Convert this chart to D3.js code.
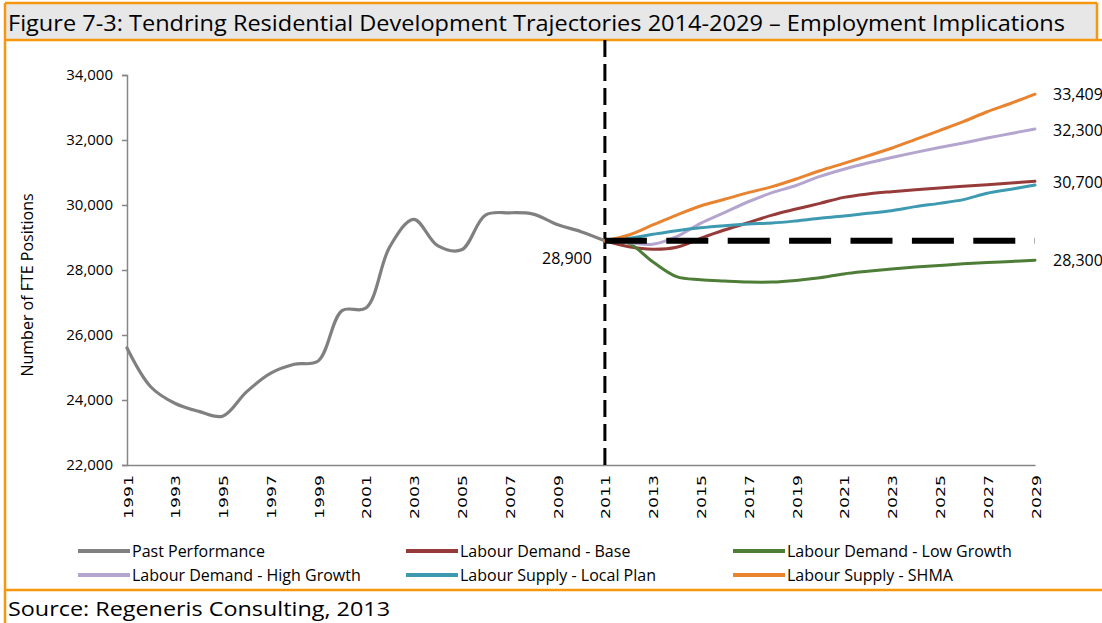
<!DOCTYPE html>
<html><head><meta charset="utf-8">
<script src="https://cdn.jsdelivr.net/npm/d3@7"></script>
<style>body{margin:0;background:#fff}svg{display:block}</style>
</head><body>
<svg id="c" width="1102" height="623"></svg>
<script>
// ---- data ----
const pastYears = [1991,1992,1993,1994,1995,1996,1997,1998,1999,2000,2001,2002,2003,2004,2005,2006,2007,2008,2009,2010,2011];
const pastPerformance = [25600,24400,23900,23650,23500,24250,24820,25100,25200,26750,26830,28720,29560,28750,28620,29690,29760,29720,29400,29180,28900];
const projYears = [2011,2012,2013,2014,2015,2016,2017,2018,2019,2020,2021,2022,2023,2024,2025,2026,2027,2028,2029];
const labourDemandBase = [28900,28718,28640,28700,28975,29230,29455,29690,29875,30050,30235,30340,30410,30470,30525,30575,30625,30675,30730];
const labourDemandLow = [28900,28820,28255,27795,27700,27660,27630,27630,27680,27760,27880,27960,28030,28090,28140,28190,28230,28265,28300];
const labourDemandHigh = [28900,28840,28790,29025,29435,29765,30100,30380,30600,30880,31100,31290,31460,31620,31770,31910,32060,32200,32340];
const labourSupplyLocal = [28900,28975,29097,29210,29300,29365,29415,29445,29510,29590,29660,29745,29825,29950,30050,30165,30360,30485,30615];
const labourSupplySHMA = [28900,29077,29385,29690,29970,30175,30380,30565,30800,31055,31280,31510,31745,32020,32290,32565,32870,33130,33409];
const baseline2011 = [28900,28900,28900,28900,28900,28900,28900,28900,28900,28900,28900,28900,28900,28900,28900,28900,28900,28900,28900];
const yTicks = [22000,24000,26000,28000,30000,32000,34000];
const xTickYears = [1991,1993,1995,1997,1999,2001,2003,2005,2007,2009,2011,2013,2015,2017,2019,2021,2023,2025,2027,2029];
const endLabels = [{v:33409,t:"33,409"},{v:32300,t:"32,300"},{v:30700,t:"30,700"},{v:28300,t:"28,300"}];
const startLabel = {year:2011, v:28900, t:"28,900"};
const seriesNames = ["Past Performance","Labour Demand - Base","Labour Demand - Low Growth","Labour Demand - High Growth","Labour Supply - Local Plan","Labour Supply - SHMA"];
const seriesColors = ["#808080","#973B3A","#4E7D37","#B4A5CF","#3D9AB0","#E8832F"];
const title = "Figure 7-3: Tendring Residential Development Trajectories 2014-2029 \u2013 Employment Implications";
const source = "Source: Regeneris Consulting, 2013";
const yTitle = "Number of FTE Positions";

// ---- drawing ----
const svg = d3.select("#c");
const FONT = "'Open Sans', sans-serif";
const ORANGE = "#F7960F";
const x = d3.scaleLinear().domain([1991,2029]).range([127,1035]);
const y = d3.scaleLinear().domain([22000,34000]).range([465,75]);

// frame & title
svg.append("rect").attr("x",5).attr("y",3).attr("width",1092).attr("height",37).attr("fill","#E7E7E7");
svg.append("text").attr("x",8).attr("y",31).attr("font-family",FONT).attr("font-size",21)
  .attr("textLength",1057).attr("lengthAdjust","spacingAndGlyphs").attr("fill","#000").text(title);
const frame = svg.append("g").attr("stroke",ORANGE).attr("stroke-width",2.5);
frame.append("line").attr("x1",5).attr("x2",1097).attr("y1",3).attr("y2",3);
frame.append("line").attr("x1",5).attr("x2",1102).attr("y1",40).attr("y2",40);
frame.append("line").attr("x1",1097).attr("x2",1097).attr("y1",3).attr("y2",40);
frame.append("line").attr("x1",5).attr("x2",5).attr("y1",3).attr("y2",623);
frame.append("line").attr("x1",5).attr("x2",1102).attr("y1",590).attr("y2",590);

svg.append("text").attr("x",8).attr("y",616).attr("font-family",FONT).attr("font-size",20)
  .attr("textLength",382).attr("lengthAdjust","spacingAndGlyphs").text(source);

// y axis
const yAxis = svg.append("g").attr("transform",`translate(${x(1991)},0)`)
  .call(d3.axisLeft(y).tickValues(yTicks).tickSize(5).tickPadding(9).tickFormat(d3.format(",")));
yAxis.select(".domain").attr("stroke","#868686").attr("stroke-width",1.5);
yAxis.selectAll(".tick line").attr("stroke","#868686").attr("stroke-width",1.5);
yAxis.selectAll("text").attr("font-family",FONT).attr("font-size",15).attr("fill","#000");

svg.append("text").attr("transform",`translate(33,${(y(22000)+y(34000))/2 + 15}) rotate(-90)`)
  .attr("text-anchor","middle").attr("font-family",FONT).attr("font-size",16).text(yTitle);

// x axis
const xAxis = svg.append("g").attr("transform",`translate(0,${y(22000)})`)
  .call(d3.axisBottom(x).tickValues(xTickYears).tickSize(0).tickPadding(0).tickFormat(d3.format("d")));
xAxis.select(".domain").attr("stroke","#868686").attr("stroke-width",1.5);
xAxis.selectAll(".tick text").attr("font-family","'DejaVu Sans', sans-serif").attr("font-size",13)
  .attr("fill","#000").attr("text-anchor","end").attr("dy",null).attr("y",0)
  .attr("transform","translate(5,10) rotate(-90)").attr("textLength",44).attr("lengthAdjust","spacingAndGlyphs");

// vertical dashed line at 2011
svg.append("line").attr("x1",x(2011)).attr("x2",x(2011)).attr("y1",y(34000)-35).attr("y2",y(22000))
  .attr("stroke","#000").attr("stroke-width",3).attr("stroke-dasharray","17,7");

// lines
const line = d3.line().x(d=>x(d[0])).y(d=>y(d[1])).curve(d3.curveCatmullRom.alpha(0.5));
const proj = [labourDemandBase,labourDemandLow,labourDemandHigh,labourSupplyLocal,labourSupplySHMA];
svg.append("path").datum(pastYears.map((yr,i)=>[yr,pastPerformance[i]]))
  .attr("d",line).attr("fill","none").attr("stroke",seriesColors[0]).attr("stroke-width",3.2).attr("stroke-linecap","round");
proj.forEach((s,k)=>{
  svg.append("path").datum(projYears.map((yr,i)=>[yr,s[i]]))
    .attr("d",line).attr("fill","none").attr("stroke",seriesColors[k+1]).attr("stroke-width",3).attr("stroke-linecap","round");
});
svg.append("path").datum(projYears.map((yr,i)=>[yr,baseline2011[i]]))
  .attr("d",d3.line().x(d=>x(d[0])).y(d=>y(d[1]))).attr("fill","none").attr("stroke","#000")
  .attr("stroke-width",6).attr("stroke-dasharray","42,19.4");

// labels
svg.selectAll(".endlab").data(endLabels).join("text").attr("class","endlab")
  .attr("x",x(2029)+18).attr("y",d=>y(d.v)).attr("dy","0.35em")
  .attr("font-family",FONT).attr("font-size",16).text(d=>d.t);
svg.append("text").attr("x",x(startLabel.year)-13).attr("y",y(startLabel.v)+18).attr("dy","0.35em")
  .attr("text-anchor","end").attr("font-family",FONT).attr("font-size",16).text(startLabel.t);

// legend
const legendPos = [[78,551],[406,551],[733,551],[78,575],[406,575],[733,575]];
const lg = svg.append("g");
seriesNames.forEach((n,i)=>{
  const [lx,ly] = legendPos[i];
  lg.append("line").attr("x1",lx).attr("x2",lx+52).attr("y1",ly).attr("y2",ly)
    .attr("stroke",seriesColors[i]).attr("stroke-width",4);
  lg.append("text").attr("x",lx+54).attr("y",ly).attr("dy","0.35em")
    .attr("font-family",FONT).attr("font-size",16).text(n);
});
</script>
</body></html>
